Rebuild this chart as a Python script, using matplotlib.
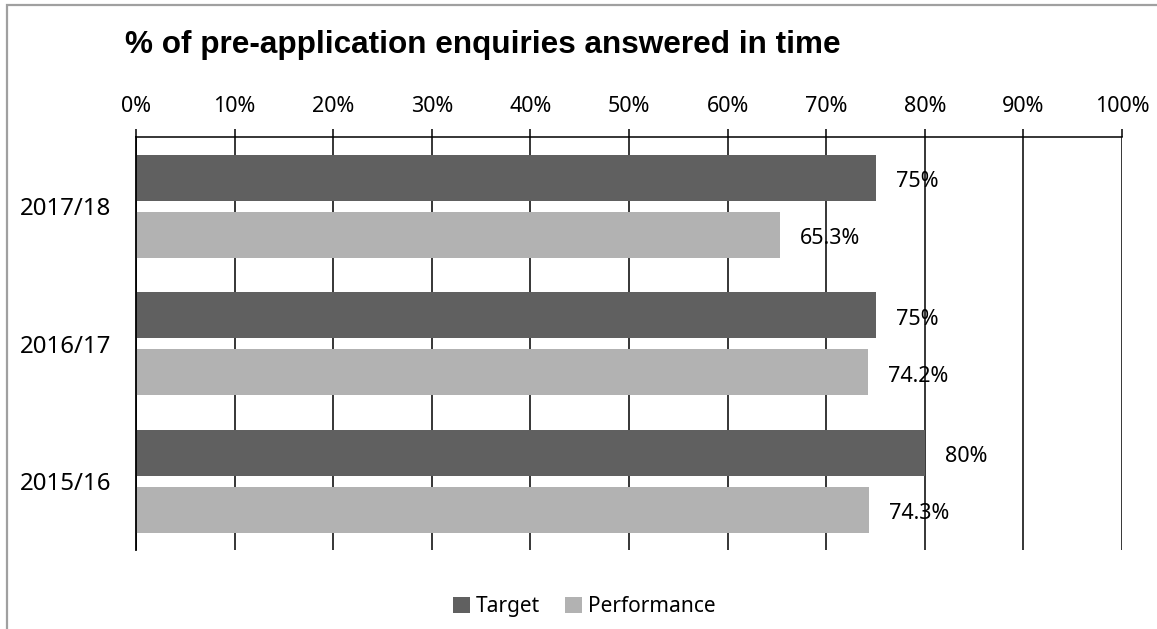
import matplotlib
matplotlib.use("Agg")
import matplotlib.pyplot as plt
import matplotlib.patches as mpatches
import numpy as np

years = ["2015/16", "2016/17", "2017/18"]
target = [80, 75, 75]
performance = [74.3, 74.2, 65.3]
target_labels = ["80%", "75%", "75%"]
performance_labels = ["74.3%", "74.2%", "65.3%"]
ticks = list(range(0, 101, 10))

DARK = "#606060"
LIGHT = "#b2b2b2"

plt.rcParams['font.family'] = ['Noto Sans', 'DejaVu Sans']


def main():
    fig = plt.figure(figsize=(11.57, 6.29), dpi=100)
    ax = fig.add_axes([0.11755, 0.1256, 0.8522, 0.6558])

    y = np.arange(len(years))
    off = 0.207
    h = 0.335
    ax.barh(y + off, target, height=h, color=DARK, zorder=2, label="Target")
    ax.barh(y - off, performance, height=h, color=LIGHT, zorder=2, label="Performance")

    # data labels sit under the gridlines, like the original
    for yi, v, t in zip(y + off, target, target_labels):
        ax.annotate(t, (v, yi), xytext=(14.5, -3), textcoords="offset points",
                    ha="left", va="center", fontsize=15.5, zorder=0.3)
    for yi, v, t in zip(y - off, performance, performance_labels):
        ax.annotate(t, (v, yi), xytext=(14.5, -3), textcoords="offset points",
                    ha="left", va="center", fontsize=15.5, zorder=0.3)

    ax.set_xlim(0, 100)
    ax.set_ylim(-0.5, 2.5)
    ax.set_xticks(ticks)
    ax.set_xticklabels([f"{t}%" for t in ticks])
    ax.set_yticks(y)
    ax.set_yticklabels(years)

    ax.xaxis.tick_top()
    ax.tick_params(axis="x", direction="out", length=6, width=1.1, pad=8.5,
                   labelsize=15.5, color="black")
    ax.tick_params(axis="y", length=0, pad=18, labelsize=17.3)
    for lab in ax.get_yticklabels():
        lab.set_y(lab.get_position()[1])

    ax.set_axisbelow(True)
    ax.grid(axis="x", color="black", linewidth=1.1, zorder=1)
    ax.grid(axis="y", visible=False)

    for s in ["right", "bottom"]:
        ax.spines[s].set_visible(False)
    ax.spines["top"].set_linewidth(1.1)
    ax.spines["left"].set_linewidth(1.3)

    fig.text(125 / 1157, 1 - 53 / 629, "% of pre-application enquiries answered in time",
             fontsize=22.7, fontweight="bold", family="Liberation Sans",
             ha="left", va="baseline")

    ax.legend(loc="center", bbox_to_anchor=(0.505, 0.036),
              bbox_transform=fig.transFigure, ncol=2, frameon=False,
              fontsize=15, handlelength=0.8, handleheight=0.8,
              handletextpad=0.3, columnspacing=1.2)

    # outer chart border (only left/top visible in the crop)
    fig.patches.append(mpatches.Rectangle((6.5 / 1157, -0.2), 1.3, 0.992 + 0.2,
                                          transform=fig.transFigure, fill=False,
                                          edgecolor="#a0a0a0", linewidth=1.6))

    fig.savefig("out.png", dpi=100)


if __name__ == '__main__':
    main()
